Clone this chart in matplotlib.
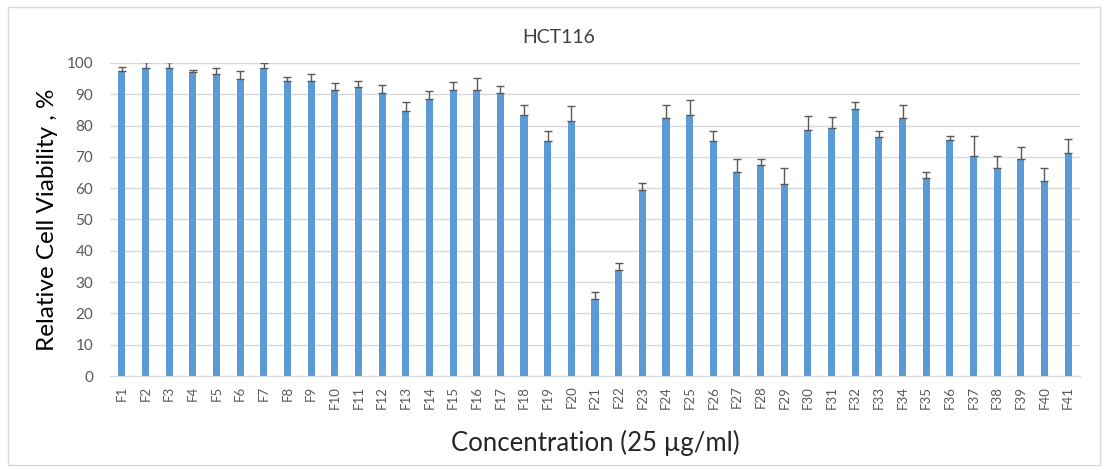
import matplotlib.pyplot as plt
from matplotlib.patches import Rectangle

samples = ["F%d" % i for i in range(1, 42)]
viability = [97.5, 98.5, 98.5, 97.0, 96.5, 95.0, 98.5, 94.2, 94.3, 91.3,
             92.2, 90.4, 84.6, 88.5, 91.3, 91.3, 90.4, 83.5, 75.0, 81.5,
             24.5, 34.0, 59.3, 82.3, 83.5, 75.0, 65.2, 67.3, 61.2, 78.5,
             79.3, 85.4, 76.2, 82.3, 63.3, 75.5, 70.4, 66.5, 69.2, 62.4,
             71.1]
errors = [1.1, 1.7, 1.7, 0.8, 1.9, 2.4, 1.5, 1.4, 2.1, 2.4,
          2.2, 2.6, 3.0, 2.4, 2.7, 3.8, 2.1, 3.2, 3.3, 4.6,
          2.2, 2.2, 2.3, 4.4, 4.6, 3.3, 4.0, 2.1, 5.2, 4.7,
          3.3, 2.1, 2.2, 4.4, 2.0, 1.2, 6.3, 3.9, 4.1, 4.0,
          4.7]

plt.rcParams['font.family'] = ['Lato', 'DejaVu Sans']

fig = plt.figure(figsize=(11.08, 4.70), dpi=100)
ax = fig.add_axes([0.0993, 0.2, 0.8754, 0.666])

x = list(range(len(samples)))
lower = [0] * len(errors)
ax.bar(x, viability, width=0.3, color='#5B9BD5', zorder=2)
ax.errorbar(x, viability, yerr=[lower, errors], fmt='none', ecolor='#595959',
            elinewidth=1.0, capsize=3, capthick=1.0, zorder=3)

ax.set_xlim(-0.5, len(samples) - 0.5)
ax.set_ylim(0, 100)
ax.set_yticks(range(0, 101, 10))
ax.set_xticks(x)
ax.set_xticklabels(samples, rotation=90, fontsize=9.5, color='#595959')
ax.tick_params(axis='y', labelsize=11, labelcolor='#595959', length=0, pad=12)
ax.tick_params(axis='x', length=0, pad=7)
ax.grid(axis='y', color='#D9D9D9', linewidth=1.0, zorder=0)
ax.set_axisbelow(True)
for side in ['left', 'right', 'top']:
    ax.spines[side].set_visible(False)
ax.spines['bottom'].set_color('#D9D9D9')

# title is centred on the whole figure, not the plot area
fig.text(0.504, 0.921, "HCT116", fontsize=14, color='#404040',
         ha='center', va='center')
ax.set_ylabel("Relative Cell Viability , %", fontsize=17.5, color='black', labelpad=6)
ax.set_xlabel("Concentration (25 \u00b5g/ml)", fontsize=18.5, color='#262626', labelpad=15)

fig.patches.append(Rectangle((0.007, 0.01), 0.986, 0.975, transform=fig.transFigure,
                             fill=False, edgecolor='#D9D9D9', linewidth=1.0))

fig.savefig("out.png", dpi=100)
